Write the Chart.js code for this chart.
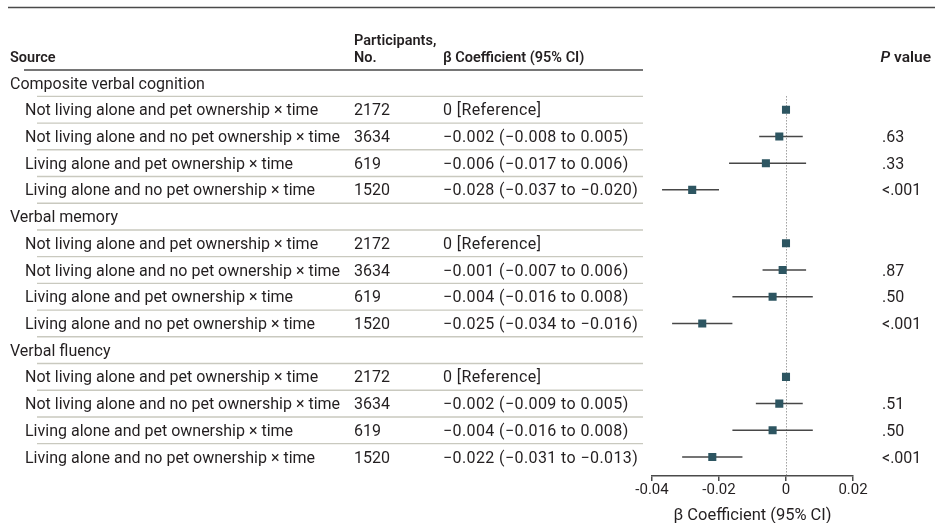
<!DOCTYPE html>
<html>
<head>
<meta charset="utf-8">
<script src="https://cdn.jsdelivr.net/npm/chart.js@4.4.1/dist/chart.umd.min.js"></script>
<style>
  html, body { margin: 0; padding: 0; background: #fff; }
  canvas { display: block; }
</style>
</head>
<body>
<canvas id="forest" width="935" height="523"></canvas>
<script>
// ---- data ----
const outcomes = ['Composite verbal cognition', 'Verbal memory', 'Verbal fluency'];
const comparisons = [
    'Not living alone and pet ownership × time',
    'Not living alone and no pet ownership × time',
    'Living alone and pet ownership × time',
    'Living alone and no pet ownership × time'
];
const participants = [2172, 3634, 619, 1520];

const compositeBeta = [0, -0.002, -0.006, -0.028];
const compositeLower = [null, -0.008, -0.017, -0.037];
const compositeUpper = [null, 0.005, 0.006, -0.020];
const compositeP = ['', '.63', '.33', '<.001'];

const memoryBeta = [0, -0.001, -0.004, -0.025];
const memoryLower = [null, -0.007, -0.016, -0.034];
const memoryUpper = [null, 0.006, 0.008, -0.016];
const memoryP = ['', '.87', '.50', '<.001'];

const fluencyBeta = [0, -0.002, -0.004, -0.022];
const fluencyLower = [null, -0.009, -0.016, -0.031];
const fluencyUpper = [null, 0.005, 0.008, -0.013];
const fluencyP = ['', '.51', '.50', '<.001'];

const xTicks = [-0.04, -0.02, 0, 0.02];

// ---- style ----
const FONT = 'Roboto, "Open Sans", sans-serif';
const TEXT = '#231f20';
const MARKER = '#2d5561';
const CI_LINE = '#474747';
const RULE_DARK = '#4a4a4a';
const RULE_LIGHT = '#c9c9bf';
const DY = 1.5; // canvas 'middle' baseline sits a bit high

// build flat row list: group header followed by its 4 comparisons
const series = [
    { beta: compositeBeta, lo: compositeLower, hi: compositeUpper, p: compositeP },
    { beta: memoryBeta, lo: memoryLower, hi: memoryUpper, p: memoryP },
    { beta: fluencyBeta, lo: fluencyLower, hi: fluencyUpper, p: fluencyP }
];
const rows = [];
outcomes.forEach((name, g) => {
    rows.push({ group: true, label: name });
    comparisons.forEach((c, k) => {
        const s = series[g];
        rows.push({ group: false, label: c, n: participants[k], beta: s.beta[k], lo: s.lo[k], hi: s.hi[k], p: s.p[k] });
    });
});

function fmt(v) {
    if (v === 0) return '0';
    const s = Math.abs(v).toFixed(3);
    return (v < 0 ? '\u2212' : '') + s;
}
function ciText(r) {
    if (r.lo === null) return '0 [Reference]';
    return `${fmt(r.beta)} (${fmt(r.lo)} to ${fmt(r.hi)})`;
}

const ciData = [];
const pointData = [];
rows.forEach((r, i) => {
    if (r.group) return;
    pointData.push({ x: r.beta, y: i });
    if (r.lo !== null) {
        ciData.push({ x: r.lo, y: i }, { x: r.hi, y: i }, { x: null, y: null });
    }
});

// ---- table + reference line plugin ----
const tablePlugin = {
    id: 'forestTable',
    beforeDatasetsDraw(chart) {
        const { ctx, scales: { x, y }, chartArea } = chart;
        const x0 = Math.round(x.getPixelForValue(0)) + 0.5;
        ctx.save();
        ctx.strokeStyle = '#6f6f6f';
        ctx.lineWidth = 1;
        ctx.setLineDash([1, 2]);
        ctx.beginPath();
        ctx.moveTo(x0, y.getPixelForValue(0.5));
        ctx.lineTo(x0, chartArea.bottom);
        ctx.stroke();
        ctx.restore();
    },
    afterDraw(chart) {
        const { ctx, scales: { y } } = chart;
        ctx.save();

        // top rule and header underline
        ctx.strokeStyle = RULE_DARK;
        ctx.lineWidth = 1.5;
        ctx.beginPath();
        ctx.moveTo(8, 7.5); ctx.lineTo(935, 7.5);
        ctx.moveTo(24, 70); ctx.lineTo(643, 70);
        ctx.stroke();

        // light dividers between rows
        ctx.strokeStyle = RULE_LIGHT;
        ctx.lineWidth = 1.4;
        ctx.beginPath();
        for (let i = 0; i < rows.length - 1; i++) {
            const yy = y.getPixelForValue(i + 0.5);
            ctx.moveTo(37, yy); ctx.lineTo(643, yy);
        }
        ctx.stroke();

        // header
        ctx.fillStyle = TEXT;
        ctx.textBaseline = 'middle';
        ctx.textAlign = 'left';
        ctx.font = `600 14.5px ${FONT}`;
        ctx.fillText('Source', 10, 57 + DY);
        ctx.fillText('Participants,', 354, 40 + DY);
        ctx.fillText('No.', 354, 57 + DY);
        ctx.fillText('\u03b2 Coefficient (95% CI)', 443, 57 + DY);
        ctx.font = `600 15.5px ${FONT}`;
        ctx.textAlign = 'right';
        ctx.fillText('value', 931, 57 + DY);
        const vw = ctx.measureText('value ').width;
        ctx.font = `italic 600 15.5px ${FONT}`;
        ctx.fillText('P', 931 - vw, 57 + DY);

        // rows
        ctx.textAlign = 'left';
        ctx.font = `16px ${FONT}`;
        rows.forEach((r, i) => {
            const yy = y.getPixelForValue(i) + DY;
            if (r.group) {
                ctx.fillText(r.label, 10, yy);
                return;
            }
            ctx.fillText(r.label, 25, yy);
            ctx.fillText(String(r.n), 354, yy);
            ctx.letterSpacing = '0.4px';
            ctx.fillText(ciText(r), 443, yy);
            ctx.letterSpacing = '0px';
            if (r.p) ctx.fillText(r.p, 882, yy);
        });
        ctx.restore();
    }
};

new Chart(document.getElementById('forest'), {
    type: 'scatter',
    data: {
        datasets: [
            {
                type: 'line',
                data: ciData,
                borderColor: CI_LINE,
                borderWidth: 1.5,
                pointRadius: 0,
                spanGaps: false,
                order: 2
            },
            {
                type: 'scatter',
                data: pointData,
                pointStyle: 'rect',
                pointRadius: 5.7,
                pointBorderWidth: 0,
                backgroundColor: MARKER,
                borderColor: MARKER,
                order: 1
            }
        ]
    },
    options: {
        responsive: false,
        devicePixelRatio: 1,
        animation: false,
        layout: { padding: { left: 652, right: 82, top: 69.65, bottom: 0 } },
        plugins: {
            legend: { display: false },
            tooltip: { enabled: false }
        },
        scales: {
            x: {
                type: 'linear',
                min: -0.04,
                max: 0.02,
                afterBuildTicks: s => { s.ticks = xTicks.map(v => ({ value: v })); },
                afterFit: s => { s.height = 47; },
                grid: { drawOnChartArea: false, drawTicks: true, tickLength: 5, color: RULE_DARK, lineWidth: 1.5 },
                border: { display: true, color: RULE_DARK, width: 1.5 },
                ticks: {
                    padding: 0,
                    color: TEXT,
                    font: { family: FONT, size: 15 },
                    callback: v => (v === 0 ? '0' : v.toFixed(2))
                },
                title: {
                    display: true,
                    text: '\u03b2 Coefficient (95% CI)',
                    color: TEXT,
                    font: { family: FONT, size: 16.5, lineHeight: 0.9 },
                    padding: 0
                }
            },
            y: {
                type: 'linear',
                display: false,
                reverse: true,
                min: -0.5,
                max: 14.71
            }
        }
    },
    plugins: [tablePlugin]
});
</script>
</body>
</html>
